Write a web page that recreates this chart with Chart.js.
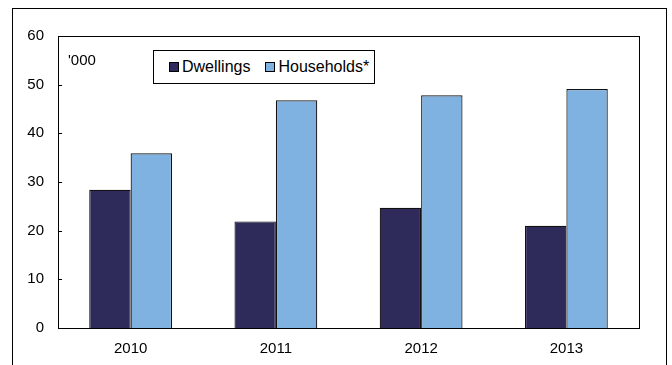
<!DOCTYPE html>
<html>
<head>
<meta charset="utf-8">
<script src="https://cdn.jsdelivr.net/npm/chart.js@4.4.0/dist/chart.umd.min.js"></script>
<style>
  html, body { margin: 0; padding: 0; background: #fff; }
  #wrap { position: relative; width: 672px; height: 365px; overflow: hidden; font-family: "Liberation Sans", Arial, sans-serif; }
  #frame { position: absolute; left: 12px; top: 8px; width: 655px; height: 400px; border: 1px solid #000; box-sizing: border-box; }
  #units { position: absolute; left: 68px; top: 51px; font-size: 15px; color: #000; }
  #legend { position: absolute; left: 153px; top: 50px; width: 222px; height: 34px; border: 1px solid #000; box-sizing: border-box; background: #fff;
            display: flex; align-items: center; font-size: 16px; color: #000; }
  .item { display: flex; align-items: center; margin-left: 15px; }
  .item + .item { margin-left: 15px; }
  .sw { width: 8px; height: 8px; border: 1px solid #000; margin-right: 3px; }
  canvas { position: absolute; left: 0; top: 0; }
</style>
</head>
<body>
<div id="wrap">
  <div id="frame"></div>
  <canvas id="chart" width="672" height="365"></canvas>
  <div id="units">'000</div>
  <div id="legend"></div>
</div>
<script>
document.addEventListener('DOMContentLoaded', () => {

    // === DATA ===
    const years = ['2010', '2011', '2012', '2013'];
    const dwellings = [28.4, 21.9, 24.7, 21.0];
    const households = [35.9, 46.8, 47.8, 49.1];
    const yTicks = [0, 10, 20, 30, 40, 50, 60];

    const colDwell = '#2e2a59';
    const colHouse = '#80b2e1';

    // legenda dibuat sebagai html
    const legend = document.getElementById('legend');
    [['Dwellings', colDwell], ['Households*', colHouse]].forEach(([name, col]) => {
        const it = document.createElement('div');
        it.className = 'item';
        it.innerHTML = `<span class="sw" style="background:${col}"></span><span>${name}</span>`;
        legend.appendChild(it);
    });

    // kotak area plot + tick ke dalam
    const plotFrame = {
        id: 'plotFrame',
        afterDatasetsDraw(chart) {
            const { ctx, chartArea: a, scales } = chart;
            ctx.save();
            ctx.strokeStyle = '#000';
            ctx.lineWidth = 1;
            ctx.strokeRect(Math.round(a.left) + 0.5, Math.round(a.top) + 0.5,
                Math.round(a.right - a.left), Math.round(a.bottom - a.top));
            yTicks.forEach(v => {
                const y = Math.round(scales.y.getPixelForValue(v)) + 0.5;
                ctx.beginPath();
                ctx.moveTo(a.left, y);
                ctx.lineTo(a.left + 4, y);
                ctx.stroke();
            });
            ctx.restore();
        }
    };

    new Chart(document.getElementById('chart'), {
        type: 'bar',
        data: {
            labels: years,
            datasets: [
                { label: 'Dwellings', data: dwellings, backgroundColor: colDwell, borderColor: '#111', borderWidth: 1.2 },
                { label: 'Households*', data: households, backgroundColor: colHouse, borderColor: '#111', borderWidth: 1.2 }
            ]
        },
        options: {
            responsive: false,
            animation: false,
            events: [],
            layout: { padding: { left: 0, top: 36, right: 33, bottom: 0 } },
            datasets: { bar: { categoryPercentage: 0.57, barPercentage: 1.0 } },
            plugins: { legend: { display: false }, tooltip: { enabled: false } },
            scales: {
                x: {
                    grid: { display: false, drawTicks: false },
                    border: { display: false },
                    ticks: { color: '#000', font: { family: 'Liberation Sans', size: 15 }, padding: 12 },
                    afterFit: s => { s.height = 37; }
                },
                y: {
                    min: 0, max: 60,
                    afterBuildTicks: s => { s.ticks = yTicks.map(v => ({ value: v })); },
                    grid: { display: false, drawTicks: false },
                    border: { display: false },
                    ticks: { color: '#000', font: { family: 'Liberation Sans', size: 15 }, padding: 14 },
                    afterFit: s => { s.width = 58; }
                }
            }
        },
        plugins: [plotFrame]
    });
});
</script>
</body>
</html>
